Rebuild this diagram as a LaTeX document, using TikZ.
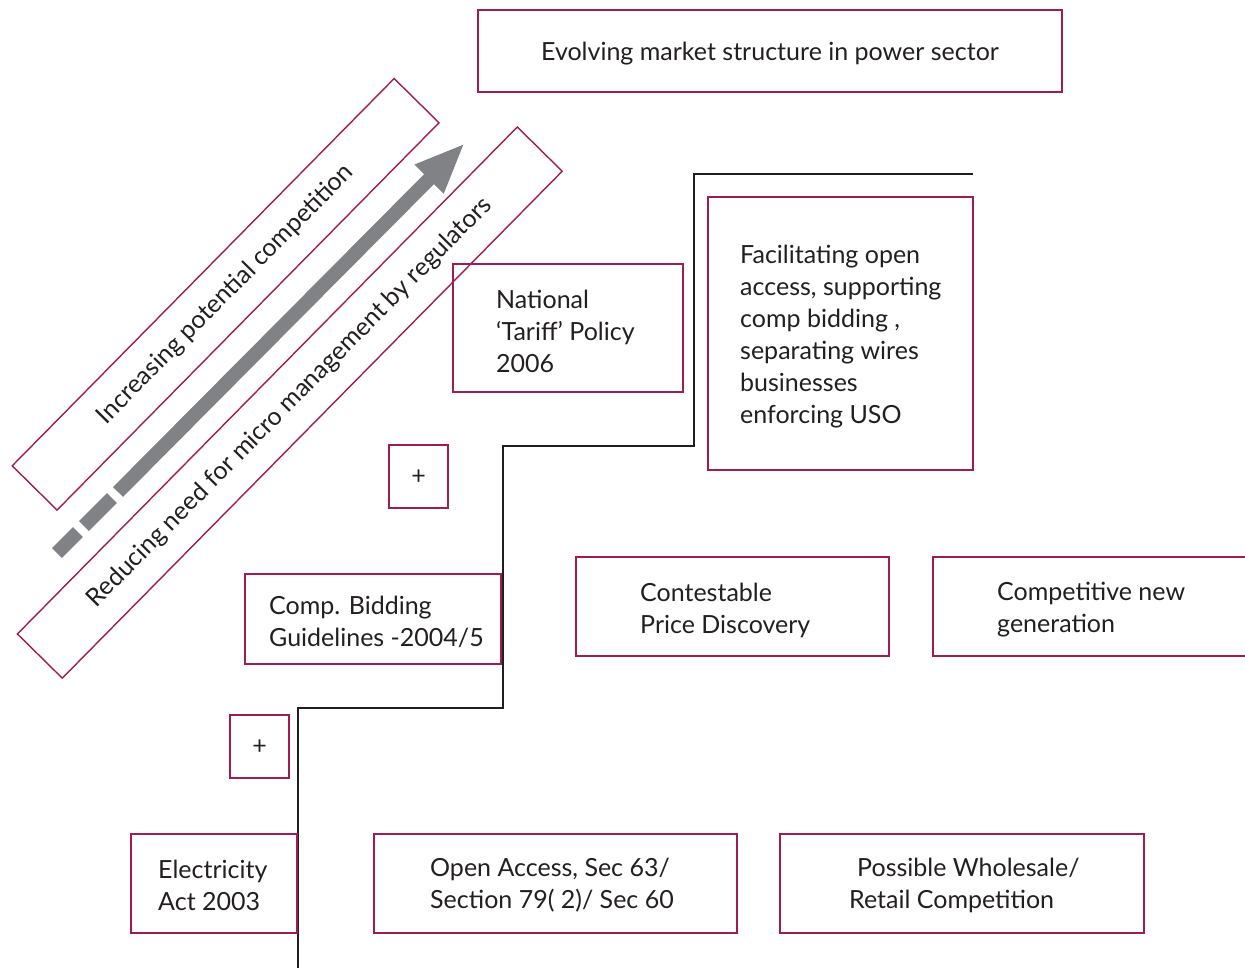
\documentclass[tikz,border=0pt]{standalone}
\usepackage{fontspec}
\setmainfont{Lato}
\usetikzlibrary{arrows.meta}
\definecolor{frame}{RGB}{160,28,82}
\definecolor{shaft}{RGB}{128,130,133}
\definecolor{ink}{RGB}{35,31,32}
\begin{document}
\begin{tikzpicture}[x=1pt,y=-1pt,
  box/.style={draw=frame,line width=1.4pt,rectangle,inner sep=0pt},
  txt/.style={text=ink,font=\fontsize{25}{32}\selectfont,align=left,inner sep=0pt},
  stair/.style={draw=black!88,line width=2.8pt},
  shaftline/.style={draw=shaft,line width=14pt}]
\useasboundingbox (0,0) rectangle (1245,968);
% title
\node[box,minimum width=584,minimum height=82] (title) at (770,51) {};
\node[txt,anchor=center] (titletxt) at (770,54) {Evolving market structure in power sector};
% staircase
\coordinate (s0) at (298,968);
\coordinate (s1) at (298,708);
\coordinate (s2) at (503,708);
\coordinate (s3) at (503,446);
\coordinate (s4) at (694,446);
\coordinate (s5) at (694,174);
\coordinate (s6) at (973,174);
\draw[stair] (s0) -- (s1) -- (s2) -- (s3) -- (s4) -- (s5) -- (s6);
% diagonal bands
\node[box,rotate=45.4,minimum width=544,minimum height=63,
      text=ink,font=\fontsize{25}{32}\selectfont] (band1) at (225.6,294.3) {\raisebox{-3pt}{Increasing potential competition}};
\node[box,rotate=45.4,minimum width=712,minimum height=63,
      text=ink,font=\fontsize{25}{32}\selectfont] (band2) at (289.8,402.6) {Reducing need for micro management by regulators};
% arrow
\coordinate (a0) at (57,553);
\coordinate (a1) at (78,532);
\coordinate (a2) at (84,526);
\coordinate (a3) at (112,498);
\coordinate (a4) at (118,492);
\coordinate (a5) at (465,143);
\draw[shaftline] (a0) -- (a1);
\draw[shaftline] (a2) -- (a3);
\draw[shaftline,-{Triangle[width=37pt,length=51pt]}] (a4) -- (a5);
% National tariff policy
\node[box,minimum width=230,minimum height=128] (nat) at (568,328) {};
\node[txt,anchor=west] (nattxt) at (496,331) {National\\‘Tariff’ Policy\\2006};
% Facilitating
\node[box,minimum width=265,minimum height=273] (fac) at (840.5,333.5) {};
\node[txt,anchor=west] (factxt) at (740,337) {Facilitating open\\access, supporting\\comp bidding ,\\separating wires\\businesses\\enforcing USO};
% plus boxes
\node[box,minimum width=59,minimum height=63] (plus1) at (418.5,476.5) {};
\node[txt] (plus1txt) at (418.5,477) {+};
\node[box,minimum width=59,minimum height=63] (plus2) at (259.5,746.5) {};
\node[txt] (plus2txt) at (259.5,747) {+};
% Comp bidding
\node[box,minimum width=256,minimum height=90] (comp) at (373,619) {};
\node[txt,anchor=west] (comptxt) at (269,622) {Comp. Bidding\\Guidelines -2004/5};
% Contestable
\node[box,minimum width=313,minimum height=99] (cont) at (732.5,606.5) {};
\node[txt,anchor=west] (conttxt) at (640,610) {Contestable\\Price Discovery};
% Competitive new generation (open at right)
\coordinate (c0) at (1250,557);
\coordinate (c1) at (933,557);
\coordinate (c2) at (933,656);
\coordinate (c3) at (1250,656);
\draw[draw=frame,line width=1.4pt] (c0) -- (c1) -- (c2) -- (c3);
\node[txt,anchor=west] (cngtxt) at (997,610) {Competitive new\\generation};
% bottom row
\node[box,minimum width=166,minimum height=99] (elec) at (214,883.5) {};
\node[txt,anchor=west] (electxt) at (158,885) {Electricity\\Act 2003};
\node[box,minimum width=363,minimum height=99] (open) at (555.5,883.5) {};
\node[txt,anchor=west] (opentxt) at (430,885) {Open Access, Sec 63/\\Section 79( 2)/ Sec 60};
\node[box,minimum width=364,minimum height=99] (whole) at (962,883.5) {};
\node[txt,anchor=west] (wholetxt) at (849,885) {\hspace*{8pt}Possible Wholesale/\\Retail Competition};
\end{tikzpicture}
\end{document}
